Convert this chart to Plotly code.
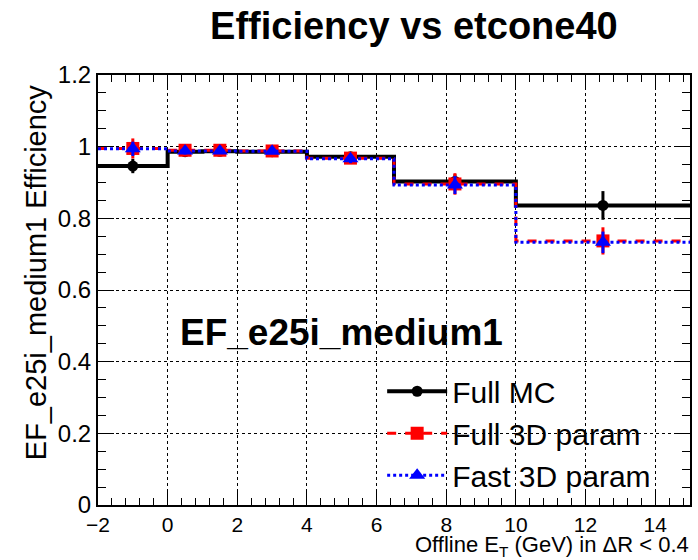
import plotly.graph_objects as go

# Data
bin_edges = [-2, 0, 1, 2, 4, 6.5, 10, 15]
full_mc = [0.946, 0.986, 0.987, 0.986, 0.972, 0.903, 0.836]
full_mc_err = [0.020, 0.008, 0.008, 0.006, 0.010, 0.020, 0.040]
full_3d = [0.995, 0.990, 0.990, 0.988, 0.968, 0.896, 0.737]
full_3d_err = [0.028, 0.012, 0.010, 0.008, 0.015, 0.030, 0.038]
fast_3d = [0.994, 0.988, 0.988, 0.987, 0.966, 0.893, 0.733]
fast_3d_err = [0.020, 0.010, 0.008, 0.006, 0.012, 0.025, 0.030]

centers = [(a + b) / 2 for a, b in zip(bin_edges[:-1], bin_edges[1:])]

FONT = "Liberation Sans, Arial, sans-serif"

fig = go.Figure()

series = [
    ("Full MC", full_mc, full_mc_err, "black", "solid", "circle", 11, 4),
    ("Full 3D param", full_3d, full_3d_err, "red", "dash", "square", 13, 3),
    ("Fast 3D param", fast_3d, fast_3d_err, "blue", "dot", "triangle-up", 14, 3),
]

for i, (name, vals, errs, col, dash, sym, msz, lw) in enumerate(series):
    # step histogram line
    fig.add_trace(go.Scatter(
        x=bin_edges, y=list(vals) + [vals[-1]],
        mode="lines", line=dict(color=col, width=lw, dash=dash, shape="hv"),
        showlegend=False, hoverinfo="skip"))
    # markers with error bars
    fig.add_trace(go.Scatter(
        x=centers, y=vals,
        mode="markers",
        marker=dict(color=col, symbol=sym, size=msz),
        error_y=dict(type="data", array=errs, color=col, thickness=3, width=0),
        showlegend=False))
    # legend entry
    fig.add_trace(go.Scatter(
        x=[None], y=[None], name=name, mode="lines+markers",
        line=dict(color=col, width=lw, dash=dash),
        marker=dict(color=col, symbol=sym, size=msz),
        legendgroup=f"g{i}"))

fig.update_layout(
    width=698, height=560,
    margin=dict(l=98, r=6, t=75, b=55),
    paper_bgcolor="white", plot_bgcolor="white",
    font=dict(family=FONT, color="black"),
    title=dict(text="<b>Efficiency vs etcone40</b>", x=0.593, xanchor="center",
               y=0.955, yanchor="middle", font=dict(size=38, family=FONT)),
    legend=dict(x=0.48, y=0.325, xanchor="left", yanchor="top",
                font=dict(size=30, family=FONT), bgcolor="rgba(0,0,0,0)",
                itemwidth=60, tracegroupgap=0),
    showlegend=True,
)

fig.update_xaxes(
    range=[-2, 15], showline=True, linewidth=2, linecolor="black", mirror="ticks",
    ticks="inside", ticklen=14, tickwidth=1, tickcolor="black",
    dtick=2, tick0=0,
    minor=dict(dtick=0.4, tick0=0, ticklen=7, ticks="inside", tickcolor="black", showgrid=False),
    showgrid=True, gridcolor="black", griddash="dot", gridwidth=1,
    tickfont=dict(size=21, family=FONT), zeroline=False, ticklabelstandoff=0,
)
fig.update_yaxes(
    range=[0, 1.2], showline=True, linewidth=2, linecolor="black", mirror="ticks",
    ticks="inside", ticklen=16, tickwidth=1, tickcolor="black",
    dtick=0.2, tick0=0,
    minor=dict(dtick=0.05, ticklen=8, ticks="inside", tickcolor="black", showgrid=False),
    showgrid=True, gridcolor="black", griddash="dot", gridwidth=1,
    tickfont=dict(size=24, family=FONT), zeroline=False, tickformat="~g",
)

fig.add_annotation(
    text="<b>EF_e25i_medium1</b>", xref="paper", yref="paper",
    x=(178 - 98) / 594, y=(505 - 332) / 430, xanchor="left", yanchor="middle", showarrow=False,
    font=dict(size=37, family=FONT, color="black"))

fig.add_annotation(
    text="EF_e25i_medium1 Efficiency", xref="paper", yref="paper",
    x=(36 - 98) / 594, y=(505 - 272) / 430, xanchor="center", yanchor="middle", textangle=-90,
    showarrow=False, font=dict(size=29, family=FONT, color="black"))

fig.add_annotation(
    text="Offline E<sub>T</sub> (GeV) in ΔR &lt; 0.4", xref="paper", yref="paper",
    x=1.0, y=(505 - 561) / 430, xanchor="right", yanchor="bottom", showarrow=False,
    borderpad=0, font=dict(size=22, family=FONT, color="black"))

fig.write_html("out.html")
